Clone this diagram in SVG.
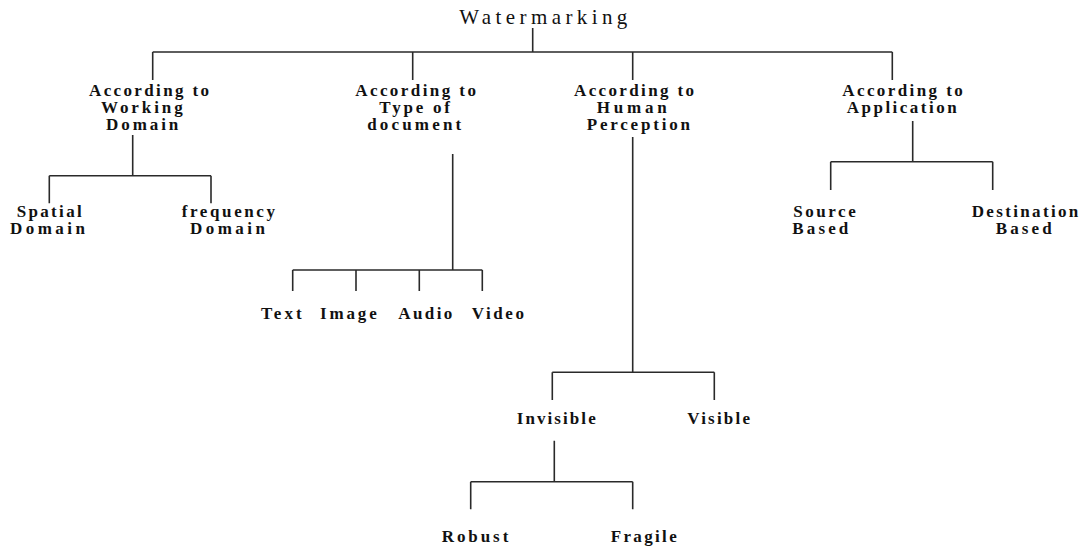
<svg xmlns="http://www.w3.org/2000/svg" width="1083" height="550" viewBox="0 0 1083 550">
  <style>
    .bg { fill: #ffffff; }
    .edge { fill: none; stroke: #2a2a2a; stroke-width: 1.6; }
    .title { font-family: "Liberation Serif", "Times New Roman", serif; font-size: 21px; fill: #111; }
    .lbl { font-family: "Liberation Serif", "Times New Roman", serif; font-size: 17px; font-weight: bold; fill: #111; }
  </style>
  <rect class="bg" x="0" y="0" width="1083" height="550"/>

  <!-- tree connectors -->
  <g id="connectors">
    <!-- root to first level -->
    <path class="edge" d="M532.7 28 V52 M152.7 52 H892.3 M152.7 52 V80 M412.7 52 V80 M632.7 52 V80 M892.3 52 V80"/>
    <!-- working domain branch -->
    <path class="edge" d="M132.7 135 V175.7 M49.3 175.7 H211 M49.3 175.7 V203.3 M211 175.7 V203.3"/>
    <!-- document type branch -->
    <path class="edge" d="M452.7 154 V270 M292.7 270 H482.3 M292.7 270 V291 M356 270 V291 M419.3 270 V291 M482.3 270 V291"/>
    <!-- human perception branch -->
    <path class="edge" d="M632.7 137 V372.3 M552.3 372.3 H714.3 M552.3 372.3 V400 M714.3 372.3 V400"/>
    <!-- invisible branch -->
    <path class="edge" d="M554.3 440.7 V481.7 M470.7 481.7 H632.7 M470.7 481.7 V509.3 M632.7 481.7 V509.3"/>
    <!-- application branch -->
    <path class="edge" d="M912.7 121 V161.7 M830.7 161.7 H992.7 M830.7 161.7 V190 M992.7 161.7 V190"/>
  </g>

  <g id="watermarking">
    <text class="title" x="459.3" y="24" textLength="168" lengthAdjust="spacing">Watermarking</text>
  </g>

  <g id="working-domain">
    <text class="lbl" x="89" y="96" textLength="120" lengthAdjust="spacing">According to</text>
    <text class="lbl" x="101" y="113" textLength="81.7" lengthAdjust="spacing">Working</text>
    <text class="lbl" x="106" y="130" textLength="72.3" lengthAdjust="spacing">Domain</text>
  </g>

  <g id="document-type">
    <text class="lbl" x="355.2" y="96" textLength="120.7" lengthAdjust="spacing">According to</text>
    <text class="lbl" x="379.3" y="113" textLength="70.7" lengthAdjust="spacing">Type of</text>
    <text class="lbl" x="367.2" y="130" textLength="94" lengthAdjust="spacing">document</text>
  </g>

  <g id="human-perception">
    <text class="lbl" x="574" y="96" textLength="120" lengthAdjust="spacing">According to</text>
    <text class="lbl" x="596.7" y="113" textLength="70" lengthAdjust="spacing">Human</text>
    <text class="lbl" x="586.7" y="130" textLength="103.3" lengthAdjust="spacing">Perception</text>
  </g>

  <g id="application">
    <text class="lbl" x="842.3" y="96" textLength="120.4" lengthAdjust="spacing">According to</text>
    <text class="lbl" x="846.7" y="113" textLength="110" lengthAdjust="spacing">Application</text>
  </g>

  <g id="spatial-domain">
    <text class="lbl" x="16.7" y="217.3" textLength="65" lengthAdjust="spacing">Spatial</text>
    <text class="lbl" x="10" y="234.3" textLength="75" lengthAdjust="spacing">Domain</text>
  </g>

  <g id="frequency-domain">
    <text class="lbl" x="181.7" y="217.3" textLength="93.3" lengthAdjust="spacing">frequency</text>
    <text class="lbl" x="190" y="234.3" textLength="75" lengthAdjust="spacing">Domain</text>
  </g>

  <g id="text">
    <text class="lbl" x="261" y="319" textLength="40.7" lengthAdjust="spacing">Text</text>
  </g>
  <g id="image">
    <text class="lbl" x="320" y="319" textLength="56.7" lengthAdjust="spacing">Image</text>
  </g>
  <g id="audio">
    <text class="lbl" x="398.3" y="319" textLength="54" lengthAdjust="spacing">Audio</text>
  </g>
  <g id="video">
    <text class="lbl" x="471.7" y="319" textLength="52.3" lengthAdjust="spacing">Video</text>
  </g>

  <g id="source-based">
    <text class="lbl" x="793.3" y="217.3" textLength="62.4" lengthAdjust="spacing">Source</text>
    <text class="lbl" x="792.3" y="234.3" textLength="56" lengthAdjust="spacing">Based</text>
  </g>

  <g id="destination-based">
    <text class="lbl" x="971.7" y="217.3" textLength="106.6" lengthAdjust="spacing">Destination</text>
    <text class="lbl" x="995.7" y="234.3" textLength="56" lengthAdjust="spacing">Based</text>
  </g>

  <g id="invisible">
    <text class="lbl" x="516.7" y="424" textLength="79" lengthAdjust="spacing">Invisible</text>
  </g>
  <g id="visible">
    <text class="lbl" x="687.3" y="424" textLength="62.7" lengthAdjust="spacing">Visible</text>
  </g>

  <g id="robust">
    <text class="lbl" x="441.7" y="542.3" textLength="66.6" lengthAdjust="spacing">Robust</text>
  </g>
  <g id="fragile">
    <text class="lbl" x="610.7" y="542.3" textLength="66" lengthAdjust="spacing">Fragile</text>
  </g>
</svg>
